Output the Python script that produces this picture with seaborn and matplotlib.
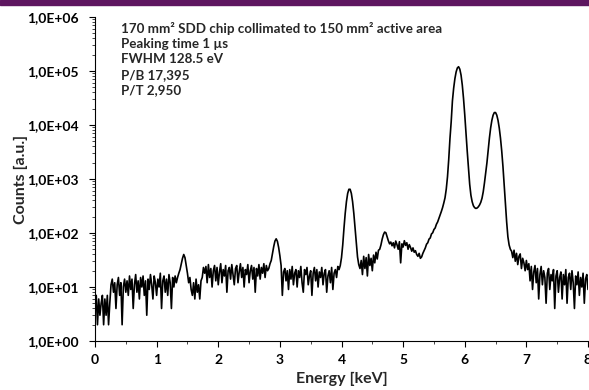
#!/usr/bin/env python3
# SDD spectrum (Mn K lines) on a log count axis, redrawn with seaborn

import numpy as np
import matplotlib
matplotlib.use("Agg")
import matplotlib.pyplot as plt
from matplotlib.patches import Rectangle
from matplotlib.ticker import FuncFormatter, LogLocator, MultipleLocator, NullFormatter
import seaborn as sns

# 1. Data: counts per 20 eV channel from 0.00 to 8.00 keV
kev_per_channel = 0.02

counts = [
    # 0.00 - 0.24
    4, 7, 2, 6, 3, 5, 7, 2, 6, 3, 7, 2, 5,
    # 0.26 - 0.50
    11, 14, 8, 12, 4, 11, 15, 7, 12, 2, 10, 14, 8,
    # 0.52 - 1.30
    13, 7, 16, 9, 14, 4, 11, 17, 8, 13, 6, 15, 10, 16, 7, 13, 3, 14, 9, 17,
    11, 6, 16, 12, 7, 14, 10, 18, 4, 13, 16, 8, 14, 7, 17, 12, 4, 15, 10, 16,
    # 1.32 - 1.56 (peak ~1.44 keV)
    12, 15, 18, 21, 27, 34, 40, 35, 25, 18, 12, 15, 9,
    # 1.58 - 1.76
    7, 12, 6, 14, 8, 11, 6, 13, 15, 23,
    # 1.78 - 2.80
    18, 24, 12, 26, 15, 22, 10, 20, 25, 13, 23, 11, 19, 27, 12, 21, 16, 25, 8, 20,
    23, 14, 26, 17, 11, 22, 25, 12, 19, 27, 15, 23, 10, 21, 17, 26, 12, 20, 25, 14,
    23, 8, 22, 16, 26, 14, 23, 18, 27, 15, 25, 20,
    # 2.82 - 3.06 (peak ~2.94 keV)
    22, 27, 31, 42, 56, 71, 78, 70, 54, 38, 25, 7, 19,
    # 3.08 - 3.94
    22, 13, 20, 9, 21, 14, 24, 11, 18, 21, 10, 20, 15, 24, 12, 8, 21, 17, 23, 11,
    16, 20, 7, 18, 23, 13, 21, 10, 19, 15, 23, 11, 18, 21, 8, 16, 20, 12, 23, 9,
    18, 21, 15, 24,
    # 3.96 - 4.30 (peak ~4.13 keV)
    21, 25, 35, 60, 122, 230, 380, 540, 645, 645, 540, 380, 230, 122, 62, 36, 26, 22,
    # 4.32 - 4.60
    31, 17, 37, 22, 35, 16, 40, 25, 34, 20, 39, 28, 44, 33, 48,
    # 4.62 - 4.80 (bump ~4.7 keV)
    50, 60, 77, 93, 104, 101, 85, 72, 63, 68,
    # 4.82 - 5.28
    58, 66, 53, 71, 61, 50, 69, 28, 63, 55, 72, 59, 66, 50, 61, 54, 46, 53, 44, 47,
    40, 37, 42, 34,
    # 5.30 - 5.68
    36, 42, 47, 53, 62, 66, 77, 81, 96, 101, 116, 124, 145, 160, 185, 215, 250, 295, 360, 450,
    # 5.70 - 6.08 (Mn K-alpha)
    650, 1100, 2300, 5600, 11500, 28000, 48000, 72000, 96000, 114000,
    120000, 108000, 84000, 55000, 31000, 15500, 7000, 3300, 1600, 800,
    # 6.10 - 6.48 (valley, Mn K-beta rising)
    500, 380, 320, 295, 285, 290, 305, 330, 370, 440,
    580, 850, 1300, 2000, 3400, 5700, 8800, 12200, 15200, 17000,
    # 6.50 - 6.74
    17000, 15200, 12200, 8800, 5700, 3300, 1700, 780, 340, 160, 85, 60, 50,
    # 6.76 - 7.00
    46, 35, 48, 30, 42, 26, 37, 41, 22, 34, 28, 20, 31,
    # 7.02 - 8.00
    21, 27, 13, 24, 9, 19, 25, 12, 22, 6, 17, 24, 11, 20, 15, 5, 18, 22, 9, 17,
    13, 21, 4, 16, 20, 8, 15, 19, 6, 17, 11, 21, 5, 15, 18, 9, 20, 12, 4, 16,
    11, 19, 7, 15, 10, 18, 5, 14, 17, 9,
]

energy = np.arange(len(counts)) * kev_per_channel

info_lines = [
    "170 mm² SDD chip collimated to 150 mm² active area",
    "Peaking time 1 µs",
    "FWHM 128.5 eV",
    "P/B 17,395",
    "P/T 2,950",
]

x_label = "Energy [keV]"
y_label = "Counts [a.u.]"

# 2. Figure setup
sns.set_style("ticks")
plt.rcParams['font.family'] = ['Lato', 'DejaVu Sans']
plt.rcParams['font.weight'] = 'bold'

W, H = 589, 390
fig = plt.figure(figsize=(W / 100, H / 100), dpi=100)
ax = fig.add_axes([95 / W, (H - 341) / H, (588 - 95) / W, (341 - 17) / H])

sns.lineplot(x=energy, y=counts, color="black", linewidth=1.2, ax=ax)

ax.set_yscale("log")
ax.set_ylim(1, 1e6)
ax.set_xlim(0, 8)

# Excel-style tick labels: 1,0E+06
ax.yaxis.set_major_locator(LogLocator(base=10, numticks=10))
ax.yaxis.set_minor_locator(LogLocator(base=10, subs=np.arange(2, 10), numticks=20))
ax.yaxis.set_minor_formatter(NullFormatter())
ax.yaxis.set_major_formatter(FuncFormatter(lambda v, p: "1,0E+%02d" % int(round(np.log10(v)))))
ax.xaxis.set_major_locator(MultipleLocator(1))
ax.xaxis.set_minor_locator(MultipleLocator(0.5))

ax.tick_params(axis="both", which="major", direction="out", length=4, width=0.8,
               labelsize=10, colors="black")
ax.tick_params(axis="both", which="minor", direction="out", length=2.5, width=0.6)
ax.tick_params(axis="x", pad=5)
ax.tick_params(axis="y", pad=8)
for lbl in ax.get_xticklabels() + ax.get_yticklabels():
    lbl.set_fontweight("bold")

sns.despine(ax=ax)
for side in ("left", "bottom"):
    ax.spines[side].set_linewidth(0.8)
    ax.spines[side].set_color("black")

ax.set_xlabel(x_label, fontsize=11.5, fontweight="bold")
ax.set_ylabel(y_label, fontsize=11.5, fontweight="bold")
ax.xaxis.set_label_coords(0.5, -0.095)
ax.yaxis.set_label_coords(-0.135, 0.5)

# 3. Annotation block and top band
fig.text(121 / W, 1 - 22 / H, "\n".join(info_lines), fontsize=9.6, fontweight="bold",
         va="top", ha="left", linespacing=1.32)
fig.add_artist(Rectangle((0, 1 - 5 / H), 1, 5 / H, transform=fig.transFigure,
                         color="#5e1660", zorder=10))

fig.savefig("out.png", dpi=100)
